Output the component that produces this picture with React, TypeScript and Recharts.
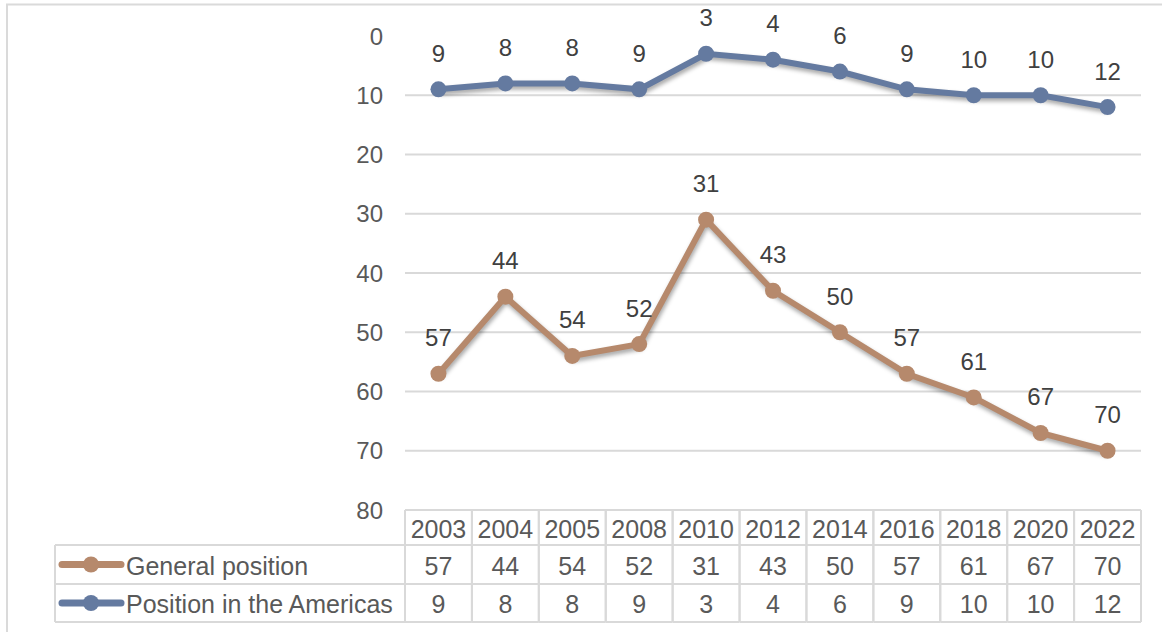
import React from 'react';
import { LineChart, Line, XAxis, YAxis, CartesianGrid, LabelList } from 'recharts';

// Survey years (table header / category axis)
const years = ['2003', '2004', '2005', '2008', '2010', '2012', '2014', '2016', '2018', '2020', '2022'];
// Overall ranking
const generalPosition = [57, 44, 54, 52, 31, 43, 50, 57, 61, 67, 70];
// Ranking within the Americas
const americasPosition = [9, 8, 8, 9, 3, 4, 6, 9, 10, 10, 12];
// Value axis ticks (reversed: best rank on top)
const yTicks = [0, 10, 20, 30, 40, 50, 60, 70, 80];
const gridValues = [10, 20, 30, 40, 50, 60, 70, 80];

const series = [
  { key: 'general', name: 'General position', color: '#B6896C', values: generalPosition },
  { key: 'americas', name: 'Position in the Americas', color: '#647AA0', values: americasPosition },
];

const data = years.map((year, i) => ({
  year,
  general: generalPosition[i],
  americas: americasPosition[i],
}));

// Layout
const W = 1162;
const H = 632;
const PLOT_LEFT = 405;
const PLOT_RIGHT = 1141;
const PLOT_TOP = 36;
const PLOT_BOTTOM = 510;
const HEADER_BOTTOM = 545;
const ROW1_BOTTOM = 584;
const TABLE_BOTTOM = 622;
const LEGEND_LEFT = 55;
const COL_W = (PLOT_RIGHT - PLOT_LEFT) / years.length;
const Y_AXIS_W = 60;

const FONT = '"Liberation Sans", Arial, sans-serif';
const TEXT = '#595959';
const BORDER = '#d9d9d9';
const BORDER_W = 2;
const TABLE_FONT = 25;
const LABEL_FONT = 24;

const rowBounds = [
  [HEADER_BOTTOM, ROW1_BOTTOM],
  [ROW1_BOTTOM, TABLE_BOTTOM],
];

// One column of the data table, placed at the category's coordinate
const TableColumn = (props: any) => {
  const { x, payload } = props;
  const row = data.find((d) => d.year === payload.value);
  const left = x - COL_W / 2;
  const right = x + COL_W / 2;
  return (
    <g>
      <line x1={left} x2={right} y1={PLOT_BOTTOM} y2={PLOT_BOTTOM} stroke={BORDER} strokeWidth={BORDER_W} />
      <line x1={left} x2={right} y1={HEADER_BOTTOM} y2={HEADER_BOTTOM} stroke={BORDER} strokeWidth={BORDER_W} />
      <line x1={left} x2={right} y1={ROW1_BOTTOM} y2={ROW1_BOTTOM} stroke={BORDER} strokeWidth={BORDER_W} />
      <line x1={left} x2={right} y1={TABLE_BOTTOM} y2={TABLE_BOTTOM} stroke={BORDER} strokeWidth={BORDER_W} />
      <line x1={left} x2={left} y1={PLOT_BOTTOM} y2={TABLE_BOTTOM} stroke={BORDER} strokeWidth={BORDER_W} />
      <line x1={right} x2={right} y1={PLOT_BOTTOM} y2={TABLE_BOTTOM} stroke={BORDER} strokeWidth={BORDER_W} />
      <text
        x={x}
        y={(PLOT_BOTTOM + HEADER_BOTTOM) / 2 + 1}
        textAnchor="middle"
        dominantBaseline="central"
        fill={TEXT}
        fontSize={TABLE_FONT}
        fontFamily={FONT}
      >
        {payload.value}
      </text>
      {series.map((s, i) => (
        <text
          key={s.key}
          x={x}
          y={(rowBounds[i][0] + rowBounds[i][1]) / 2 + 1}
          textAnchor="middle"
          dominantBaseline="central"
          fill={TEXT}
          fontSize={TABLE_FONT}
          fontFamily={FONT}
        >
          {row ? (row as any)[s.key] : ''}
        </text>
      ))}
    </g>
  );
};

// Value label drawn above each point
const PointLabel = (props: any) => {
  const { x, y, value } = props;
  return (
    <text
      x={x}
      y={y - 36}
      textAnchor="middle"
      dominantBaseline="central"
      fill="#404040"
      fontSize={LABEL_FONT}
      fontFamily={FONT}
    >
      {value}
    </text>
  );
};

export default function App() {
  return (
    <div style={{ position: 'fixed', left: 0, top: 0, width: W, height: H, background: '#fff', fontFamily: FONT }}>
      <style>{`
        .series-shadow .recharts-line-curve,
        .series-shadow .recharts-line-dots {
          filter: drop-shadow(1px 3px 2px rgba(0,0,0,0.35));
        }
      `}</style>
      <LineChart
        width={W}
        height={H}
        data={data}
        margin={{ top: PLOT_TOP, right: W - PLOT_RIGHT, left: PLOT_LEFT - Y_AXIS_W, bottom: 10 }}
      >
        <CartesianGrid
          vertical={false}
          horizontalValues={gridValues}
          stroke={BORDER}
          strokeWidth={BORDER_W}
        />
        <XAxis
          dataKey="year"
          height={TABLE_BOTTOM - PLOT_BOTTOM}
          padding={{ left: COL_W / 2, right: COL_W / 2 }}
          axisLine={false}
          tickLine={false}
          interval={0}
          tick={(p: any) => <TableColumn {...p} />}
        />
        <YAxis
          width={Y_AXIS_W}
          reversed
          domain={[0, 80]}
          ticks={yTicks}
          interval={0}
          axisLine={false}
          tickLine={false}
          tickSize={0}
          tickMargin={22}
          tick={{ fill: TEXT, fontSize: LABEL_FONT, fontFamily: FONT }}
        />
        {series.map((s) => (
          <Line
            key={s.key}
            className="series-shadow"
            type="linear"
            dataKey={s.key}
            name={s.name}
            stroke={s.color}
            strokeWidth={6}
            dot={{ r: 8, fill: s.color, stroke: s.color, strokeWidth: 0 }}
            activeDot={false}
            isAnimationActive={false}
          >
            <LabelList dataKey={s.key} content={<PointLabel />} />
          </Line>
        ))}
      </LineChart>
      <svg
        width={W}
        height={H}
        style={{ position: 'absolute', left: 0, top: 0, pointerEvents: 'none' }}
      >
        {/* outer frame */}
        <line x1={6} x2={W} y1={4.5} y2={4.5} stroke="#dadada" strokeWidth={2} />
        <line x1={7} x2={7} y1={4} y2={H} stroke="#dadada" strokeWidth={2} />
        {/* legend cells of the data table */}
        <line x1={LEGEND_LEFT} x2={PLOT_LEFT} y1={HEADER_BOTTOM} y2={HEADER_BOTTOM} stroke={BORDER} strokeWidth={BORDER_W} />
        <line x1={LEGEND_LEFT} x2={PLOT_LEFT} y1={ROW1_BOTTOM} y2={ROW1_BOTTOM} stroke={BORDER} strokeWidth={BORDER_W} />
        <line x1={LEGEND_LEFT} x2={PLOT_LEFT} y1={TABLE_BOTTOM} y2={TABLE_BOTTOM} stroke={BORDER} strokeWidth={BORDER_W} />
        <line x1={LEGEND_LEFT} x2={LEGEND_LEFT} y1={HEADER_BOTTOM} y2={TABLE_BOTTOM} stroke={BORDER} strokeWidth={BORDER_W} />
        {series.map((s, i) => {
          const cy = (rowBounds[i][0] + rowBounds[i][1]) / 2;
          return (
            <g key={s.key}>
              <line x1={62} x2={121} y1={cy} y2={cy} stroke={s.color} strokeWidth={7} strokeLinecap="round" />
              <circle cx={91} cy={cy} r={8} fill={s.color} />
              <text
                x={126}
                y={cy + 1}
                dominantBaseline="central"
                fill={TEXT}
                fontSize={TABLE_FONT}
                fontFamily={FONT}
              >
                {s.name}
              </text>
            </g>
          );
        })}
      </svg>
    </div>
  );
}
